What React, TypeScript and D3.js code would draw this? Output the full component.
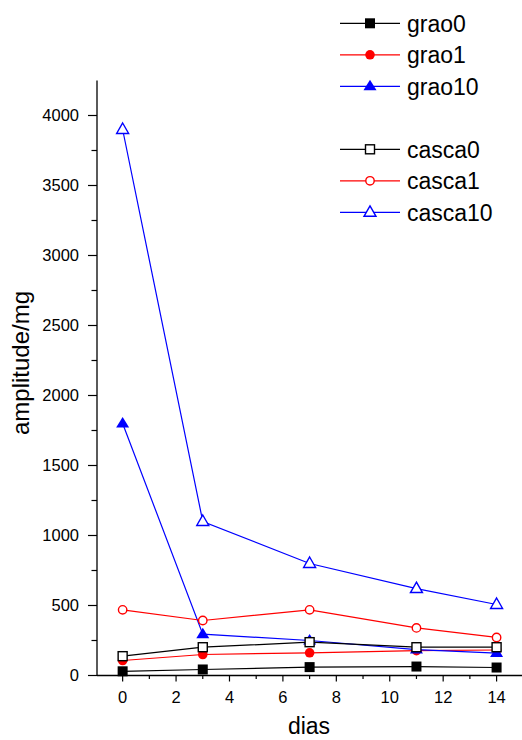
import React from "react";
import * as d3 from "d3";

// days sampled
const dias = [0, 3, 7, 11, 14];

// amplitude/mg
const grao0 = [30, 43, 60, 64, 57];
const grao1 = [107, 150, 162, 178, 182];
const grao10 = [1800, 295, 250, 185, 160];
const casca0 = [138, 202, 238, 202, 202];
const casca1 = [469, 393, 469, 340, 272];
const casca10 = [3900, 1100, 800, 621, 507];

const xTicks = [0, 2, 4, 6, 8, 10, 12, 14];
const yTicks = [0, 500, 1000, 1500, 2000, 2500, 3000, 3500, 4000];

const series = [
  { name: "grao0", values: grao0, color: "#000000", marker: "square", filled: true, legendRow: 0 },
  { name: "grao1", values: grao1, color: "#ff0000", marker: "circle", filled: true, legendRow: 1 },
  { name: "grao10", values: grao10, color: "#0000ff", marker: "triangle", filled: true, legendRow: 2 },
  { name: "casca0", values: casca0, color: "#000000", marker: "square", filled: false, legendRow: 4 },
  { name: "casca1", values: casca1, color: "#ff0000", marker: "circle", filled: false, legendRow: 5 },
  { name: "casca10", values: casca10, color: "#0000ff", marker: "triangle", filled: false, legendRow: 6 },
];

const font = "'Liberation Sans', Arial, sans-serif";

function Marker({ type, filled, color, x, y }) {
  const fill = filled ? color : "#ffffff";
  const sw = filled ? 0 : 1.4;
  if (type === "square") {
    const s = filled ? 10 : 9;
    return <rect x={x - s / 2} y={y - s / 2} width={s} height={s} fill={fill} stroke={color} strokeWidth={sw} />;
  }
  if (type === "circle") {
    return <circle cx={x} cy={y} r={filled ? 4.8 : 4.2} fill={fill} stroke={color} strokeWidth={sw} />;
  }
  const w = filled ? 6.5 : 6;
  return (
    <path
      d={`M${x},${y - 6.5}L${x + w},${y + 4}L${x - w},${y + 4}Z`}
      fill={fill}
      stroke={color}
      strokeWidth={sw}
      strokeLinejoin="miter"
    />
  );
}

export default function App() {
  const width = 522;
  const height = 740;

  const x = d3.scaleLinear().domain([-0.96, 15]).range([97, 523.3]);
  const y = d3.scaleLinear().domain([0, 4250]).range([675.5, 80.5]);

  const xMinor = d3.range(-0, 15, 1).filter((d) => d % 2 !== 0);
  const yMinor = d3.range(250, 4250, 500);

  const line = d3
    .line<number>()
    .x((d, i) => x(dias[i]))
    .y((d) => y(d));

  const legendY = (row) => 23.3 + row * 31.5;

  return (
    <svg
      width={width}
      height={height}
      style={{ position: "absolute", left: 0, top: 0, background: "#fff" }}
      fontFamily={font}
    >
      <rect width={width} height={height} fill="#fff" />

      {/* axes */}
      <line x1={x(-0.96)} x2={width} y1={y(0)} y2={y(0)} stroke="#000" strokeWidth={1.3} />
      <line x1={x(-0.96)} x2={x(-0.96)} y1={y(0)} y2={y(4250)} stroke="#000" strokeWidth={1.3} />

      {xTicks.map((t) => (
        <g key={"xt" + t}>
          <line x1={x(t)} x2={x(t)} y1={y(0)} y2={y(0) + 6} stroke="#000" strokeWidth={1.2} />
          <text x={x(t)} y={703} textAnchor="middle" fontSize={16.5}>
            {t}
          </text>
        </g>
      ))}
      {xMinor.map((t) => (
        <line key={"xm" + t} x1={x(t)} x2={x(t)} y1={y(0)} y2={y(0) + 3.5} stroke="#000" strokeWidth={1.2} />
      ))}

      {yTicks.map((t) => (
        <g key={"yt" + t}>
          <line x1={97} x2={88} y1={y(t)} y2={y(t)} stroke="#000" strokeWidth={1.2} />
          <text x={79} y={y(t)} dy="0.36em" textAnchor="end" fontSize={16.5}>
            {t}
          </text>
        </g>
      ))}
      {yMinor.map((t) => (
        <line key={"ym" + t} x1={97} x2={91.5} y1={y(t)} y2={y(t)} stroke="#000" strokeWidth={1.2} />
      ))}

      <text x={309} y={734} textAnchor="middle" fontSize={23}>
        dias
      </text>
      <text transform="translate(29,363) rotate(-90)" textAnchor="middle" fontSize={24}>
        amplitude/mg
      </text>

      {/* series */}
      {series.map((s) => (
        <g key={s.name}>
          <path d={line(s.values)} fill="none" stroke={s.color} strokeWidth={1.2} />
          {s.values.map((v, i) => (
            <Marker key={i} type={s.marker} filled={s.filled} color={s.color} x={x(dias[i])} y={y(v)} />
          ))}
        </g>
      ))}

      {/* legend */}
      {series.map((s) => {
        const ly = legendY(s.legendRow);
        return (
          <g key={"lg" + s.name}>
            <line x1={340} x2={400} y1={ly} y2={ly} stroke={s.color} strokeWidth={1.2} />
            <Marker type={s.marker} filled={s.filled} color={s.color} x={370} y={ly} />
            <text x={407} y={ly} dy="0.36em" fontSize={23}>
              {s.name}
            </text>
          </g>
        );
      })}
    </svg>
  );
}
